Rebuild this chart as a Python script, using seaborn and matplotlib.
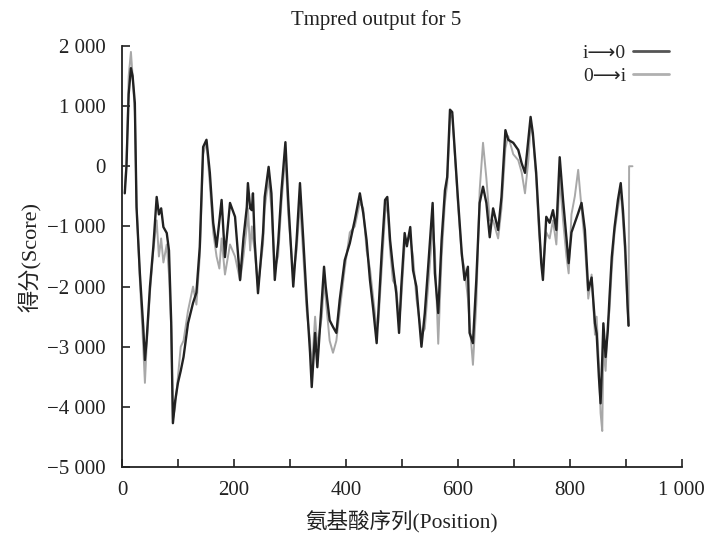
import pandas as pd
import matplotlib.pyplot as plt
import matplotlib.ticker as mticker
import seaborn as sns

# positions (amino acid index)
position = [5, 8, 12, 16, 19, 23, 26, 32, 38, 41, 44, 50, 56, 62, 66, 70, 74, 80, 84, 88,
            91, 95, 100, 105, 110, 118, 127, 133, 139, 145, 151, 157, 163, 169, 174, 178, 184, 193, 202, 211,
            217, 223, 225, 229, 232, 234, 237, 243, 252, 255, 262, 267, 273, 279, 285, 292, 297, 306, 312, 318,
            324, 330, 336, 339, 345, 349, 357, 361, 364, 371, 377, 383, 389, 398, 407, 416, 425, 431, 437, 443,
            449, 455, 458, 464, 470, 474, 479, 484, 490, 495, 499, 505, 509, 515, 520, 526, 535, 541, 547, 555,
            559, 565, 571, 577, 581, 586, 590, 596, 600, 607, 612, 618, 621, 627, 633, 639, 645, 651, 657, 663,
            669, 672, 678, 685, 690, 699, 708, 714, 720, 726, 730, 734, 740, 745, 749, 752, 758, 764, 770, 776,
            782, 788, 794, 798, 803, 809, 815, 821, 827, 833, 839, 845, 848, 852, 855, 858, 860, 864, 868, 871,
            875, 880, 886, 891, 895, 899, 903, 905]

score_io = [-450, -10, 1200, 1630, 1500, 1050, -680, -1780, -2670, -3220, -2900, -2000, -1340, -510, -800, -700, -1010, -1110, -1400, -2600,
            -4270, -3900, -3600, -3400, -3170, -2610, -2270, -2100, -1340, 320, 440, -110, -940, -1340, -900, -560, -1510, -610, -840, -1890,
            -1200, -680, -280, -700, -730, -450, -1230, -2110, -1110, -510, -10, -450, -1890, -1280, -400, 400, -560, -2000, -1230, -280,
            -1230, -2220, -3100, -3670, -2770, -3340, -2220, -1670, -2000, -2560, -2670, -2770, -2220, -1560, -1280, -890, -450, -780, -1230, -1890,
            -2390, -2940, -2440, -1440, -560, -510, -1230, -1670, -2110, -2770, -2000, -1110, -1330, -1010, -1730, -2000, -3000, -2440, -1670, -610,
            -1780, -2440, -1230, -400, -180, 940, 900, 50, -510, -1440, -1890, -1670, -2770, -2940, -1890, -610, -340, -610, -1180, -700,
            -940, -1060, -510, 600, 440, 390, 270, 50, -110, 440, 820, 550, -110, -940, -1610, -1890, -840, -940, -730, -1060,
            150, -560, -1180, -1610, -1100, -940, -780, -610, -1060, -2060, -1850, -2610, -2780, -3500, -3940, -3200, -2610, -3170, -2720, -2170,
            -1510, -1010, -560, -280, -730, -1340, -2270, -2650]

score_oi = [-350, 50, 1500, 1900, 1500, 900, -600, -1900, -3000, -3600, -3000, -2100, -1400, -900, -1500, -1200, -1600, -1300, -1800, -2700,
            -4200, -4000, -3500, -3000, -2900, -2400, -2000, -2300, -1500, 200, 400, -300, -1100, -1500, -1700, -1200, -1800, -1300, -1500, -1900,
            -1500, -1000, -700, -1400, -1000, -1200, -1400, -2000, -1300, -700, -200, -700, -1700, -1500, -600, 200, -800, -1800, -1400, -600,
            -1500, -2400, -2900, -3400, -2500, -3000, -2500, -1900, -2200, -2900, -3100, -2900, -2400, -1700, -1100, -1000, -600, -700, -1400, -1700,
            -2200, -2700, -2600, -1700, -800, -600, -1400, -1900, -2000, -2600, -2200, -1300, -1200, -1200, -1500, -2200, -2800, -2700, -2000, -1000,
            -1400, -2950, -1500, -600, -300, 800, 850, 0, -600, -1500, -1700, -2200, -2600, -3300, -2300, -400, 390, -200, -900, -900,
            -1100, -1200, -700, 300, 500, 200, 100, -100, -450, 100, 700, 500, -200, -1100, -1500, -1700, -1100, -1200, -900, -1300,
            -200, -900, -1500, -1780, -800, -500, -60, -700, -1300, -2200, -1800, -2800, -2500, -3300, -4100, -4400, -3000, -3400, -2600, -2400,
            -1700, -1100, -700, -400, -900, -1500, -2300, -2650]

# the o->i curve ends with a jump back to zero
end_position = [906, 912]
end_score = [0, 0]

df_io = pd.DataFrame({'Position': position, 'Score': score_io, 'dir': 'i→0'})
df_oi = pd.DataFrame({'Position': position + end_position, 'Score': score_oi + end_score, 'dir': '0→i'})

sns.set_style('ticks')
plt.rcParams['font.family'] = ['Liberation Serif', 'Noto Sans CJK SC', 'DejaVu Sans']
plt.rcParams['axes.unicode_minus'] = True

fig = plt.figure(figsize=(7.05, 5.4), dpi=100)
ax = fig.add_axes([0.173, 0.135, 0.794, 0.78])

sns.lineplot(data=df_oi, x='Position', y='Score', color='#a8a8a8', lw=1.4, sort=False,
             estimator=None, ax=ax, zorder=2)
sns.lineplot(data=df_io, x='Position', y='Score', color='#222222', lw=1.7, sort=False,
             estimator=None, ax=ax, zorder=3)

ax.set_xlim(0, 1000)
ax.set_ylim(-5000, 2000)
ax.xaxis.set_major_locator(mticker.MultipleLocator(200))
ax.xaxis.set_minor_locator(mticker.MultipleLocator(100))
ax.yaxis.set_major_locator(mticker.MultipleLocator(1000))


def spaced(v, pos):
    s = f'{abs(int(v)):,}'.replace(',', ' ')
    return ('−' + s) if v < 0 else s


ax.xaxis.set_major_formatter(mticker.FuncFormatter(spaced))
ax.yaxis.set_major_formatter(mticker.FuncFormatter(spaced))
ax.tick_params(axis='both', which='both', direction='in', length=6, width=1.2,
               labelsize=15, colors='#222222')
ax.tick_params(axis='y', pad=11.5)
ax.tick_params(axis='x', pad=10)
for s in ['top', 'right']:
    ax.spines[s].set_visible(False)
for s in ['left', 'bottom']:
    ax.spines[s].set_linewidth(1.3)
    ax.spines[s].set_color('#222222')

fig.text(0.533, 0.962, 'Tmpred output for 5', fontsize=15, color='#222222',
         ha='center', va='center')
ax.set_xlabel('氨基酸序列(Position)', fontsize=15.5, color='#222222', labelpad=7)
ax.set_ylabel('得分(Score)', fontsize=16, color='#222222', labelpad=4)

handles = [plt.Line2D([0], [0], color='#555555', lw=2),
           plt.Line2D([0], [0], color='#b0b0b0', lw=2)]
ax.legend(handles, ['i⟶0', '0⟶i'], loc='upper right', bbox_to_anchor=(1.008, 1.045),
          frameon=False, markerfirst=False, fontsize=14, handlelength=1.85,
          handletextpad=0.35, labelspacing=0.25)

fig.savefig('out.png', dpi=100)
